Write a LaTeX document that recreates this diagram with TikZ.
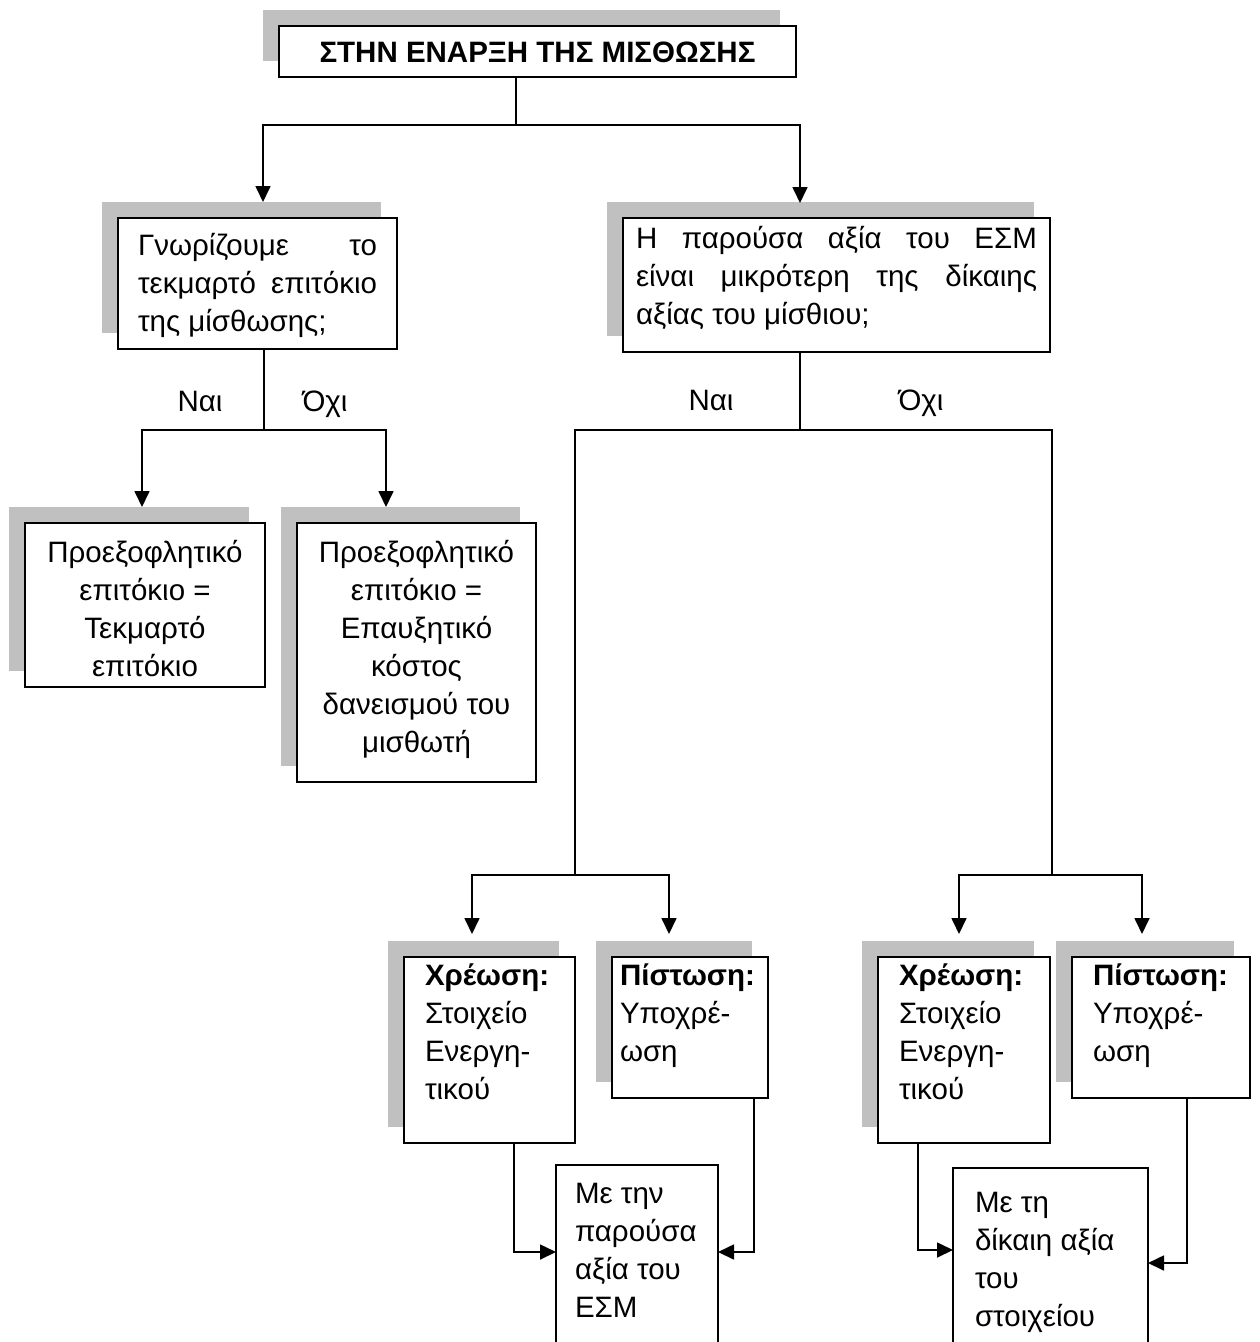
\documentclass[tikz,border=0pt]{standalone}
\usepackage{fontspec}
\setmainfont{Liberation Sans}
\usetikzlibrary{arrows.meta,calc,shadows}
\definecolor{shadowgray}{RGB}{192,192,192}
% text block of a box: height, width, first baseline, alignment, text
\newcommand{\boxtxt}[5]{\parbox[c][#1pt][t]{#2pt}{#4\rule{0pt}{#3pt}#5}}
\tikzset{
  box/.style={draw, fill=white, line width=1.7pt, inner ysep=0pt, outer sep=0pt,
    anchor=north west, font=\fontsize{29.5}{38}\selectfont},
  shadowed/.style={drop shadow={shadow xshift=-16pt, shadow yshift=16pt,
    fill=shadowgray, opacity=1}},
  yesno/.style={fill=white, minimum width=93pt, minimum height=54pt, inner sep=0pt,
    text height=21pt, text depth=0pt, font=\fontsize{29.5}{38}\selectfont},
  link/.style={line width=1.7pt},
  arr/.style={line width=1.7pt, -{Triangle[length=16pt,width=15pt]}},
}
\begin{document}
\begin{tikzpicture}[x=1pt, y=-1pt]
	\fill[white] (0,0) rectangle (1260,1342);
	\useasboundingbox (0,0) rectangle (1260,1342);
	\clip (0,0) rectangle (1260,1342);
	
	% boxes
	\node[box, shadowed, inner xsep=0pt] (title) at (279,26) {\boxtxt{51}{517}{36}{\centering\bfseries}{ΣΤΗΝ ΕΝΑΡΞΗ ΤΗΣ ΜΙΣΘΩΣΗΣ}};
	\node[box, shadowed, inner xsep=20pt] (q1) at (118,218) {\boxtxt{131}{239}{37}{}{Γνωρίζουμε \hfill το\\ τεκμαρτό \hfill επιτόκιο\\ της μίσθωσης;}};
	\node[box, shadowed, inner xsep=13pt] (q2) at (623,218) {\boxtxt{134}{401}{30}{}{Η \hfill παρούσα \hfill αξία \hfill του \hfill ΕΣΜ\\ είναι \hfill μικρότερη \hfill της \hfill δίκαιης\\ αξίας του μίσθιου;}};
	\node[box, shadowed, inner xsep=5pt] (r1) at (25,523) {\boxtxt{164}{230}{39}{\centering}{Προεξοφλητικό\\ επιτόκιο =\\ Τεκμαρτό\\ επιτόκιο}};
	\node[box, shadowed, inner xsep=5pt] (r2) at (297,523) {\boxtxt{259}{229}{39}{\centering}{Προεξοφλητικό\\ επιτόκιο =\\ Επαυξητικό\\ κόστος\\ δανεισμού του\\ μισθωτή}};
	\node[box, shadowed, inner xsep=21pt] (d1) at (404,957) {\boxtxt{186}{129}{28}{\raggedright}{\textbf{Χρέωση:}\\ Στοιχείο\\ Ενεργη-\\ τικού}};
	\node[box, shadowed, inner xsep=8pt] (c1) at (612,957) {\boxtxt{141}{140}{28}{\raggedright}{\textbf{Πίστωση:}\\ Υποχρέ-\\ ωση}};
	\node[box, shadowed, inner xsep=21pt] (d2) at (878,957) {\boxtxt{186}{130}{28}{\raggedright}{\textbf{Χρέωση:}\\ Στοιχείο\\ Ενεργη-\\ τικού}};
	\node[box, shadowed, inner xsep=21pt] (c2) at (1072,957) {\boxtxt{141}{136}{28}{\raggedright}{\textbf{Πίστωση:}\\ Υποχρέ-\\ ωση}};
	\node[box, inner xsep=19pt] (m1) at (556,1165) {\boxtxt{200}{124}{38}{\raggedright}{Με την\\ παρούσα\\ αξία του\\ ΕΣΜ}};
	\node[box, inner xsep=22pt] (m2) at (953,1168) {\boxtxt{200}{151}{44}{\raggedright}{Με τη\\ δίκαιη αξία\\ του\\ στοιχείου}};
	
	% answers
	\node[yesno] (nai1) at (200,401) {Ναι};
	\node[yesno] (oxi1) at (325,401) {Όχι};
	\node[yesno] (nai2) at (711,400) {Ναι};
	\node[yesno] (oxi2) at (921,400) {Όχι};
	
	% junctions
	\coordinate (t0) at (516,125);
	\coordinate (a0) at (264,430);
	\coordinate (b0) at (800,430);
	\coordinate (b1) at (575,875);
	\coordinate (b2) at (1052,875);
	
	\draw[link] (title.south -| t0) -- (t0);
	\draw[arr] (t0) -| ($(q1.north west)+(145,-16)$);
	\draw[arr] (t0) -| ($(q2.north west)+(177,-15)$);
	
	\draw[link] (q1.south -| a0) -- (a0);
	\draw[arr] (a0) -| ($(r1.north west)+(117,-16)$);
	\draw[arr] (a0) -| ($(r2.north west)+(89,-16)$);
	
	\draw[link] (q2.south -| b0) -- (b0);
	\draw[link] (b0) -| (b1);
	\draw[link] (b0) -| (b2);
	\draw[arr] (b1) -| ($(d1.north west)+(68,-23)$);
	\draw[arr] (b1) -| ($(c1.north west)+(57,-23)$);
	\draw[arr] (b2) -| ($(d2.north west)+(81,-23)$);
	\draw[arr] (b2) -| ($(c2.north west)+(70,-23)$);
	
	\draw[arr] ($(d1.south west)+(110,0)$) |- ($(m1.north west)+(0,87)$);
	\draw[arr] ($(c1.south west)+(142,0)$) |- ($(m1.north east)+(0,87)$);
	\draw[arr] ($(d2.south west)+(40,0)$) |- ($(m2.north west)+(0,82)$);
	\draw[arr] ($(c2.south west)+(115,0)$) |- ($(m2.north east)+(0,95)$);
	
\end{tikzpicture}
\end{document}
